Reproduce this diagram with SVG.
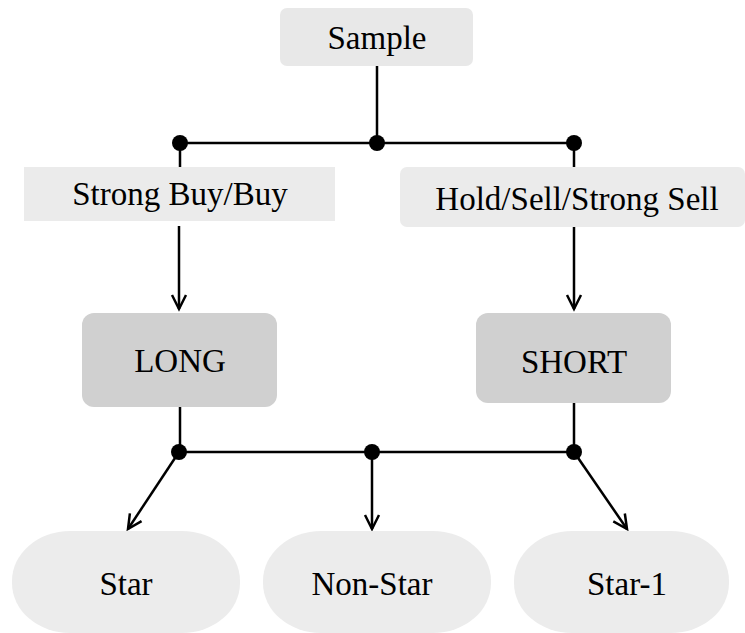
<svg xmlns="http://www.w3.org/2000/svg" width="745" height="633" viewBox="0 0 745 633">
<style>
text{font-family:"Liberation Serif","Times New Roman",serif;font-size:33px;fill:#000;text-anchor:middle}
.ln{stroke:#000;stroke-width:2.5;fill:none}
.ar{marker-end:url(#arr)}
.dot{fill:#000}
</style>
<defs>
<marker id="arr" markerUnits="userSpaceOnUse" markerWidth="20" markerHeight="20" viewBox="-16 -10 20 20" refX="0" refY="0" orient="auto">
<path d="M-14,-7 L0,0 L-14,7" fill="none" stroke="#000" stroke-width="2.5"/>
</marker>
</defs>
<rect width="745" height="633" fill="#fff"/>
<g id="connectors">
<path class="ln" d="M377,66 V143 M180,143 H574 M180,143 V167 M574,143 V167"/>
<path class="ln ar" d="M179,226 V309"/>
<path class="ln ar" d="M574,227 V309"/>
<path class="ln" d="M180,407 V452 M574,403 V452 M180,452 H574"/>
<path class="ln ar" d="M179,452 L128,529"/>
<path class="ln ar" d="M372,452 V529"/>
<path class="ln ar" d="M574,452 L627,529"/>
<circle class="dot" cx="180" cy="143" r="8"/>
<circle class="dot" cx="377" cy="143" r="8"/>
<circle class="dot" cx="574" cy="143" r="8"/>
<circle class="dot" cx="179" cy="452" r="8"/>
<circle class="dot" cx="372" cy="452" r="8"/>
<circle class="dot" cx="574" cy="452" r="8"/>
</g>
<g id="sample"><rect x="280" y="8" width="193" height="58" rx="7" fill="#e8e8e8"/><text x="377" y="49">Sample</text></g>
<g id="buy"><rect x="24" y="167" width="311" height="54" fill="#ebebeb"/><text x="180" y="205">Strong Buy/Buy</text></g>
<g id="sell"><rect x="400" y="167" width="345" height="60" rx="7" fill="#ebebeb"/><text x="577" y="210">Hold/Sell/Strong Sell</text></g>
<g id="long"><rect x="82" y="313" width="195" height="94" rx="12" fill="#d0d0d0"/><text x="180" y="372">LONG</text></g>
<g id="short"><rect x="476" y="313" width="195" height="90" rx="12" fill="#d0d0d0"/><text x="574" y="373">SHORT</text></g>
<g id="star"><rect x="12" y="531" width="228" height="102" rx="58" ry="50" fill="#ececec"/><text x="126" y="595">Star</text></g>
<g id="nonstar"><rect x="263" y="531" width="228" height="102" rx="58" ry="50" fill="#ececec"/><text x="372" y="595">Non-Star</text></g>
<g id="star1"><rect x="514" y="531" width="215" height="102" rx="58" ry="50" fill="#ececec"/><text x="627" y="595">Star-1</text></g>
</svg>
